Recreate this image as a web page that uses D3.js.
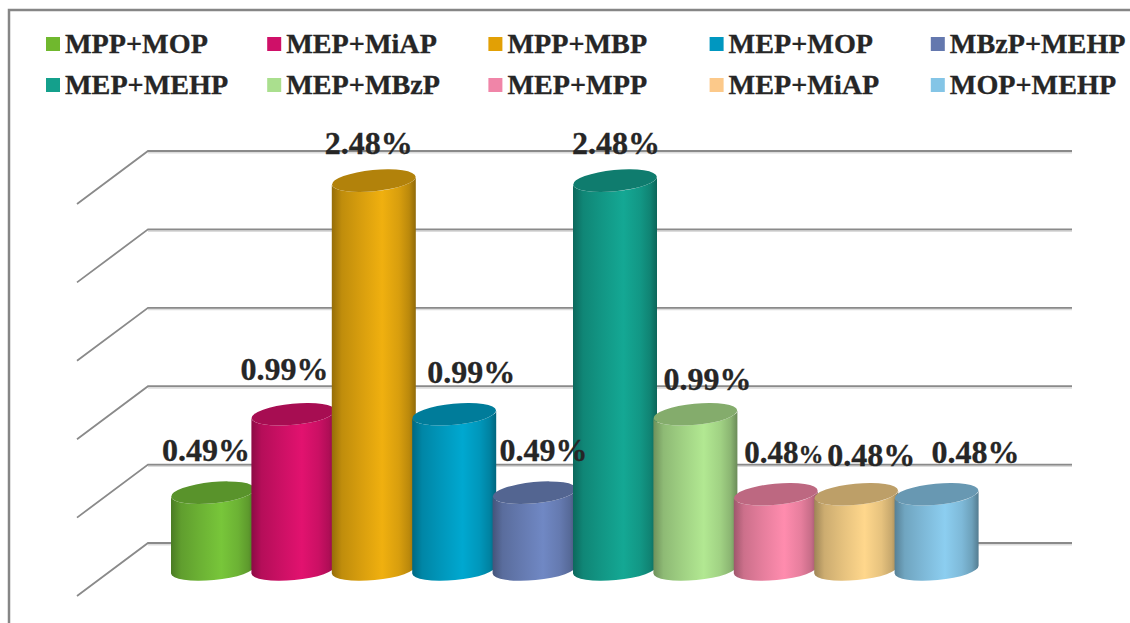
<!DOCTYPE html>
<html><head><meta charset="utf-8">
<script src="https://cdn.jsdelivr.net/npm/d3@7"></script>
<style>html,body{margin:0;padding:0;background:#fff;overflow:hidden}svg{display:block}
text{font-family:"Liberation Serif","Times New Roman",serif;font-weight:700;fill:#262626;stroke:#262626;stroke-width:.3px}</style>
</head><body><svg id="c" width="1130" height="623"></svg>
<script>
const categories = ["MPP+MOP","MEP+MiAP","MPP+MBP","MEP+MOP","MBzP+MEHP","MEP+MEHP","MEP+MBzP","MEP+MPP","MEP+MiAP ","MOP+MEHP"];
const values = [0.49,0.99,2.48,0.99,0.49,2.48,0.99,0.48,0.48,0.48];
const valueLabels = ["0.49%","0.99%","2.48%","0.99%","0.49%","2.48%","0.99%","0.48%","0.48%","0.48%"];
const barColors = ["#78c63a","#e2126f","#f0b00f","#00a8d0","#7088c4","#14a894","#b2e892","#ff8cae","#ffd78c","#8ccef0"];
const legendColors = ["#70b82e","#cf1068","#e2a005","#0097c0","#6478ae","#14a08c","#aadf8e","#f085a8","#fcc98a","#84c5e6"];
const axisTicks = [0,0.5,1,1.5,2,2.5];
const labelDx = [-7,-9,-5,17,9,1,12,8,15,39];
const labelDy = [-32,-34,-27,-31,-32,-27,-24,-31,-28,-31];
const labelSizes = [32,32,32,32,32,32,32,31,32,32];

const svg = d3.select("#c");
const W=1130,H=623;
const x = d3.scaleBand().domain(d3.range(categories.length)).range([171,975]).padding(0);
const barW = 84, rx = barW/2, ry = 10.6, tilt = -5.5;
const yFront = d3.scaleLinear().domain([0,2.5]).range([569.5,177.5]);
const yBack = d3.scaleLinear().domain([0,2.5]).range([543,151]);
const depth = {dx:-71,dy:53};
const gridRight = 1072, gridLeft = 148;

svg.append("rect").attr("x",9).attr("y",10).attr("width",W+20).attr("height",H+20)
  .attr("fill","#fff").attr("stroke","#868686").attr("stroke-width",2.5);

// gridlines
const grid = svg.append("g").selectAll("g").data(axisTicks).join("g");
grid.append("path").attr("fill","none").attr("stroke","#dcdcdc").attr("stroke-width",2)
  .attr("d",d=>`M${gridLeft},${yBack(d)+1.5}H${gridRight}`);
grid.append("path").attr("fill","none").attr("stroke","#8a8a8a").attr("stroke-width",1.8)
  .attr("d",d=>`M${gridLeft+depth.dx},${yBack(d)+depth.dy}L${gridLeft},${yBack(d)}H${gridRight}`);

// legend
const leg = svg.append("g").selectAll("g").data(categories).join("g")
  .attr("transform",(d,i)=>`translate(${46+221.2*(i%5)},${37+(i<5?0:41)})`);
leg.append("rect").attr("width",14).attr("height",14).attr("fill",(d,i)=>legendColors[i]);
leg.append("text").attr("x",19).attr("y",15.5).style("font-size","28.2px").text(d=>d.trim());

// gradients
const defs = svg.append("defs");
function mul(c,k){const r=d3.rgb(c);return d3.rgb(r.r*k,r.g*k,r.b*k).formatHex();}
barColors.forEach((c,i)=>{
  const g = defs.append("linearGradient").attr("id","g"+i).attr("x1",0).attr("x2",1).attr("y1",0).attr("y2",0);
  [[0,0.62],[0.12,0.8],[0.35,0.9],[0.6,1],[0.8,0.9],[0.92,0.78],[1,0.6]].forEach(s=>
    g.append("stop").attr("offset",s[0]).attr("stop-color",mul(c,s[1])));
});

// cylinders
const ca = Math.cos(tilt*Math.PI/180), sa = Math.sin(tilt*Math.PI/180);
const ex = rx*ca, ey = rx*sa;
const bars = svg.append("g").selectAll("g").data(values).join("g");
bars.append("path").attr("fill",(d,i)=>`url(#g${i})`).attr("d",(d,i)=>{
  const cx=x(i)+barW/2, t=yFront(d), b=yFront(0);
  return `M${cx-rx},${t-ey}L${cx-rx},${b-ey}A${rx},${ry} ${tilt} 0 0 ${cx+rx},${b+ey}L${cx+rx},${t+ey}A${rx},${ry} ${tilt} 0 1 ${cx-rx},${t-ey}Z`;
});
bars.append("ellipse").attr("fill",(d,i)=>mul(barColors[i],0.74))
  .attr("rx",rx).attr("ry",ry)
  .attr("transform",(d,i)=>`translate(${x(i)+barW/2},${yFront(d)}) rotate(${tilt})`);

// value labels
const labels = svg.append("g").selectAll("text").data(values).join("text")
  .attr("text-anchor","middle")
  .attr("x",(d,i)=>x(i)+barW/2+labelDx[i])
  .attr("y",(d,i)=>yFront(d)+labelDy[i])
  .style("font-size",(d,i)=>labelSizes[i]+"px");
labels.each(function(d,i){
  const t=d3.select(this), s=valueLabels[i];
  if(i===7){t.append("tspan").text(s.slice(0,-1));t.append("tspan").style("font-size","25px").text("%");}
  else t.text(s);
});
</script></body></html>
